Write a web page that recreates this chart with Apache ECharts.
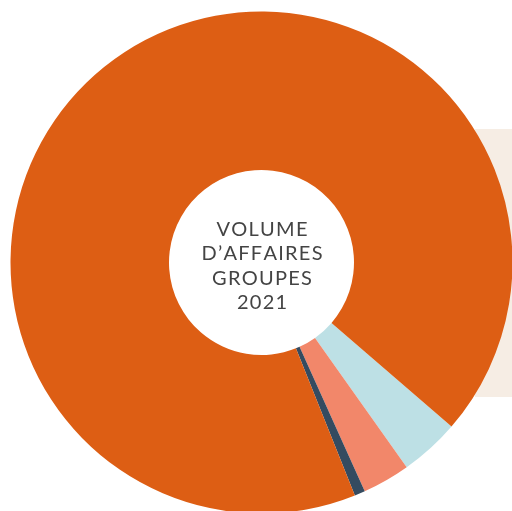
<!DOCTYPE html>
<html><head><meta charset="utf-8">
<script src="https://cdn.jsdelivr.net/npm/echarts@6/dist/echarts.min.js"></script>
<style>html,body{margin:0;padding:0;background:#fff}#c{width:512px;height:511px}</style>
</head><body><div id="c"></div>
<script>
const categories = ['Segment A', 'Segment B', 'Segment C', 'Segment D'];
const values = [3.85, 3.07, 0.68, 92.4];
const colors = ['#bde0e5', '#f2876a', '#354b60', '#dd5e14'];
const centerLines = ['VOLUME', 'D\u2019AFFAIRES', 'GROUPES', '2021'];

const spaced = centerLines.map(l => Array.from(l).join('\u200A')).join('\n');

const chart = echarts.init(document.getElementById('c'), null, {renderer: 'canvas'});
chart.setOption({
  animation: false,
  backgroundColor: '#ffffff',
  graphic: [
    {type: 'rect', shape: {x: 475, y: 129, width: 40, height: 268}, style: {fill: '#f6ede4'}, z: -10},
    {type: 'text', x: 262, y: 266,
      style: {text: spaced, x: 0, y: 0, align: 'center', verticalAlign: 'middle',
        font: '400 20px Lato', lineHeight: 24.5, fill: '#444444'}, z: 100}
  ],
  series: [{
    type: 'pie',
    center: [261.5, 262.5],
    radius: [92.5, 251],
    startAngle: -40.8,
    clockwise: true,
    label: {show: false},
    labelLine: {show: false},
    emphasis: {disabled: true},
    itemStyle: {borderWidth: 0},
    data: categories.map((c, i) => ({name: c, value: values[i], itemStyle: {color: colors[i]}}))
  }]
});
</script></body></html>
